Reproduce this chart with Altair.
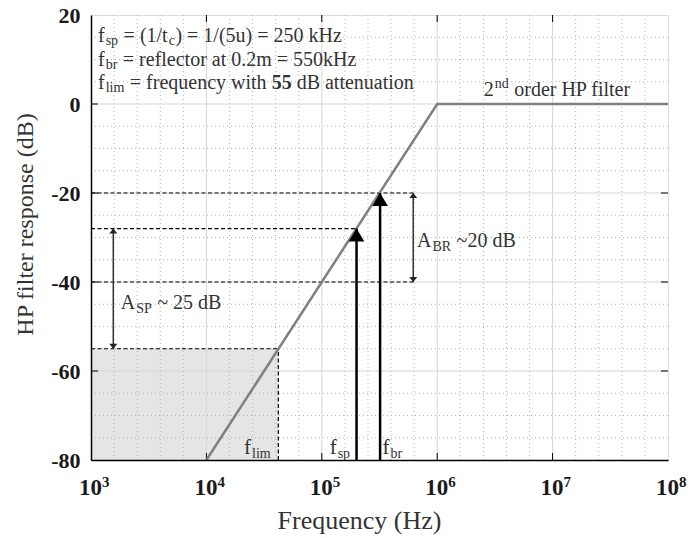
import altair as alt
import pandas as pd

# ---------------- data ----------------
filter_freq = [1e4, 1e6, 1e8]
filter_db = [-80, 0, 0]

f_lim, f_sp, f_br = 4.2e4, 2.0e5, 3.2e5
db_lim, db_sp, db_br, db_br_low = -55, -28, -20, -40
dash_end = 6.5e5
asp_x, abr_x = 1.56e3, 6.2e5

x_decades = [1e3, 1e4, 1e5, 1e6, 1e7, 1e8]
x_exponents = ["3", "4", "5", "6", "7", "8"]
y_major = [-80, -60, -40, -20, 0, 20]
y_minor = [-75, -70, -65, -55, -50, -45, -35, -30, -25, -15, -10, -5, 5, 10, 15]
x_minor = [10 ** (k + j / 5) for k in range(3, 8) for j in range(1, 5)]

note_lines = [
    [("f", "n"), ("sp", "s"), (" = (1/t", "n"), ("c", "s"), (") = 1/(5u) = 250 kHz", "n")],
    [("f", "n"), ("br", "s"), (" = reflector at 0.2m = 550kHz", "n")],
    [("f", "n"), ("lim", "s"), (" = frequency with ", "n"), ("55", "b"), (" dB attenuation", "n")],
]
note_x = 1e3
note_y = [13.9, 8.5, 3.3]

asp_label = [("A", "n"), ("SP", "s"), (" ~ 25 dB", "n")]
asp_pos = (1.81e3, -46.1)
abr_label = [("A", "n"), ("BR", "s"), (" ~20 dB", "n")]
abr_pos = (6.68e5, -32.2)
hp_label = [("2", "n"), ("nd", "p"), (" order HP filter", "n")]
hp_pos = (2.53e6, 1.8)
freq_labels = [
    ([("f", "n"), ("lim", "s")], (2.12e4, -78.65)),
    ([("f", "n"), ("sp", "s")], (1.17e5, -78.65)),
    ([("f", "n"), ("br", "s")], (3.36e5, -78.65)),
]

# ---------------- styling ----------------
FONT = "Liberation Serif"
W, H = 577, 445
TXT = "#333333"

TIMES = {' ': 250, '!': 333, '(': 333, ')': 333, '.': 250, '/': 278, ',': 250, '-': 333,
         '=': 564, '~': 541, 'A': 722, 'B': 667, 'C': 667, 'D': 722, 'E': 611, 'F': 556,
         'H': 722, 'P': 556, 'R': 667, 'S': 556, 'a': 444, 'b': 500, 'c': 444, 'd': 500,
         'e': 444, 'f': 333, 'g': 500, 'h': 500, 'i': 278, 'k': 500, 'l': 278, 'm': 778,
         'n': 500, 'o': 500, 'p': 500, 'q': 500, 'r': 333, 's': 389, 't': 278, 'u': 500,
         'v': 500, 'w': 722, 'x': 500, 'y': 500, 'z': 444}


def tw(s, size):
    return sum(TIMES.get(ch, 500) for ch in s) * size / 1000.0


xs = alt.Scale(type="log", domain=[1e3, 1e8], nice=False)
ys = alt.Scale(domain=[-80, 20], nice=False, zero=False)

x_axis = alt.Axis(labels=False, ticks=False, grid=False, domain=True, domainColor="black",
                  domainWidth=1.5, title="Frequency (Hz)", titleFont=FONT, titleFontSize=26,
                  titleFontWeight="normal", titleColor=TXT, titleX=268, titleY=68,
                  titleAlign="center", titleBaseline="alphabetic", zindex=1)
y_axis = alt.Axis(values=y_major, labelExpr="'' + datum.value", labelFont=FONT,
                  labelFontSize=22, labelFontWeight="bold", labelColor="#1a1a1a",
                  labelPadding=11, ticks=False, tickSize=0, grid=False, domain=True,
                  domainColor="black", domainWidth=1.5, title="HP filter response (dB)",
                  titleFont=FONT, titleFontSize=24, titleFontWeight="normal", titleColor=TXT,
                  titleX=-59, titleY=209, titleAngle=-90, titleAlign="center",
                  titleBaseline="alphabetic", zindex=1)


def X(f):
    return alt.X(f, type="quantitative", scale=xs, axis=x_axis)


def Y(f):
    return alt.Y(f, type="quantitative", scale=ys, axis=y_axis)


def text_group(x, y, pieces, dx0=0, size=20, color=TXT, sub_dy=4):
    layers = []
    cur = dx0
    sub = round(size * 0.68)
    for txt, kind in pieces:
        fs = size if kind in ("n", "b") else sub
        dy = {"n": 0, "b": 0, "s": sub_dy, "p": -8}[kind]
        weight = "bold" if kind == "b" else "normal"
        if kind in ("s", "p"):
            cur += 1.0
        lead = len(txt) - len(txt.lstrip(" "))
        cur += lead * 250 * fs / 1000
        core = txt.strip(" ")
        layers.append(
            alt.Chart(pd.DataFrame({"x": [x], "y": [y], "t": [core]}))
            .mark_text(align="left", baseline="alphabetic", dx=cur, dy=dy, fontSize=fs,
                       fontWeight=weight, font=FONT, color=color)
            .encode(x=X("x"), y=Y("y"), text="t:N")
        )
        cur += tw(core, fs)
        if kind in ("s", "p"):
            cur += 0.5
        trail = len(txt) - len(txt.rstrip(" "))
        cur += trail * 250 * fs / 1000
    return layers


layers = []

# shaded region
shade = pd.DataFrame({"x": [1e3], "x2": [f_lim], "y": [-80], "y2": [db_lim]})
layers.append(alt.Chart(shade).mark_rect(color="#e5e5e5").encode(
    x=X("x"), x2="x2", y=Y("y"), y2="y2"))

# grid
layers.append(alt.Chart(pd.DataFrame({"v": x_minor})).mark_rule(
    color="#b5b5b5", strokeWidth=1, strokeDash=[1, 3]).encode(x=X("v")))
layers.append(alt.Chart(pd.DataFrame({"v": y_minor})).mark_rule(
    color="#b5b5b5", strokeWidth=1, strokeDash=[1, 3]).encode(y=Y("v")))
layers.append(alt.Chart(pd.DataFrame({"v": x_decades[1:-1]})).mark_rule(
    color="#d6d6d6", strokeWidth=1).encode(x=X("v")))
layers.append(alt.Chart(pd.DataFrame({"v": y_major[1:-1]})).mark_rule(
    color="#d6d6d6", strokeWidth=1).encode(y=Y("v")))

# inward ticks
yt = pd.DataFrame({"v": y_major[1:-1]})
xt = pd.DataFrame({"v": x_decades[1:-1]})
layers.append(alt.Chart(yt).mark_rule(color="black", strokeWidth=1).encode(
    y=Y("v"), x=alt.value(0), x2=alt.value(7)))
layers.append(alt.Chart(yt).mark_rule(color="black", strokeWidth=1).encode(
    y=Y("v"), x=alt.value(W - 7), x2=alt.value(W)))
layers.append(alt.Chart(xt).mark_rule(color="black", strokeWidth=1).encode(
    x=X("v"), y=alt.value(H - 7), y2=alt.value(H)))
layers.append(alt.Chart(xt).mark_rule(color="black", strokeWidth=1).encode(
    x=X("v"), y=alt.value(0), y2=alt.value(7)))

# dashed lines
hd = pd.DataFrame({"x": [1e3, 1e3, 1e3, 1e3],
                   "x2": [dash_end, f_sp, dash_end, f_lim],
                   "y": [db_br, db_sp, db_br_low, db_lim]})
layers.append(alt.Chart(hd).mark_rule(color="black", strokeWidth=1.2, strokeDash=[4, 2.5]).encode(
    x=X("x"), x2="x2", y=Y("y")))
vd = pd.DataFrame({"x": [f_lim], "y": [-80], "y2": [db_lim]})
layers.append(alt.Chart(vd).mark_rule(color="black", strokeWidth=1.2, strokeDash=[4, 2.5]).encode(
    x=X("x"), y=Y("y"), y2="y2"))

# filter response
filt = pd.DataFrame({"f": filter_freq, "db": filter_db})
layers.append(alt.Chart(filt).mark_line(color="#808080", strokeWidth=2.5).encode(
    x=X("f"), y=Y("db")))

# double arrows
da = pd.DataFrame({"x": [asp_x, abr_x], "top": [db_sp, db_br], "bot": [db_lim, db_br_low]})
layers.append(alt.Chart(da).mark_rule(color="#333333", strokeWidth=1.5).encode(
    x=X("x"), y=Y("top"), y2="bot"))
layers.append(alt.Chart(da).mark_point(shape="M0,0L-0.8,1L0.8,1Z", filled=True, size=100,
                                       color="#222222", opacity=1).encode(x=X("x"), y=Y("top")))
layers.append(alt.Chart(da).mark_point(shape="M0,0L-0.8,-1L0.8,-1Z", filled=True, size=100,
                                       color="#222222", opacity=1).encode(x=X("x"), y=Y("bot")))

# big arrows
ba = pd.DataFrame({"x": [f_sp, f_br], "y": [-80, -80], "y2": [db_sp, db_br]})
layers.append(alt.Chart(ba).mark_rule(color="black", strokeWidth=2.5).encode(
    x=X("x"), y=Y("y"), y2="y2"))
layers.append(alt.Chart(ba).mark_point(shape="M0,0L-0.6,1L0.6,1Z", filled=True, size=676,
                                       color="black", opacity=1).encode(x=X("x"), y=Y("y2")))

# x tick labels
xl = pd.DataFrame({"x": x_decades, "y": [-80] * 6, "e": x_exponents, "b": ["10"] * 6})
layers.append(alt.Chart(xl).mark_text(align="right", baseline="alphabetic", dx=11, dy=35,
                                      fontSize=23, fontWeight="bold", font=FONT,
                                      color="#1a1a1a").encode(x=X("x"), y=Y("y"), text="b:N"))
layers.append(alt.Chart(xl).mark_text(align="left", baseline="alphabetic", dx=11, dy=27,
                                      fontSize=15, fontWeight="bold", font=FONT,
                                      color="#1a1a1a").encode(x=X("x"), y=Y("y"), text="e:N"))

# annotations
for pieces, yy in zip(note_lines, note_y):
    layers += text_group(note_x, yy, pieces, dx0=7, size=20, sub_dy=3)
layers += text_group(asp_pos[0], asp_pos[1], asp_label, size=20)
layers += text_group(abr_pos[0], abr_pos[1], abr_label, size=20)
layers += text_group(hp_pos[0], hp_pos[1], hp_label, size=20)
for pieces, pos in freq_labels:
    layers += text_group(pos[0], pos[1], pieces, size=21)

chart = (
    alt.layer(*layers)
    .properties(width=W, height=H, autosize=alt.AutoSizeParams(type="none"),
                padding={"left": 91, "top": 15, "right": 23, "bottom": 78})
    .configure_view(stroke="black", strokeWidth=1.5)
    .configure(background="white")
)

chart.save("out.html", embed_options={"renderer": "svg", "actions": False})
